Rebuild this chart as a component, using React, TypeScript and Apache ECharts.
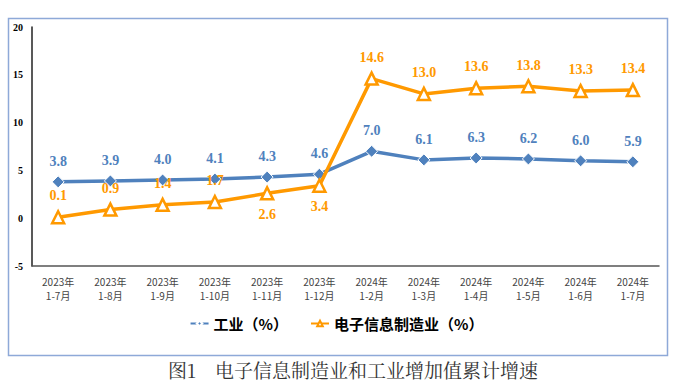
import React, { useEffect, useRef } from "react";
import * as echarts from "echarts";

const categories = [
  "2023年\n1-7月", "2023年\n1-8月", "2023年\n1-9月", "2023年\n1-10月", "2023年\n1-11月", "2023年\n1-12月",
  "2024年\n1-2月", "2024年\n1-3月", "2024年\n1-4月", "2024年\n1-5月", "2024年\n1-6月", "2024年\n1-7月",
];
const industry = [3.8, 3.9, 4.0, 4.1, 4.3, 4.6, 7.0, 6.1, 6.3, 6.2, 6.0, 5.9];
const electronics = [0.1, 0.9, 1.4, 1.7, 2.6, 3.4, 14.6, 13.0, 13.6, 13.8, 13.3, 13.4];
const belowLabelIdx = [4, 5];
const seriesNames = ["工业（%）", "电子信息制造业（%）"];
const caption = "图1　电子信息制造业和工业增加值累计增速";

export default function App() {
  const ref = useRef<HTMLDivElement>(null);
  useEffect(() => {
    const chart = echarts.init(ref.current!, null, { renderer: "svg" });
    const blue = "#4F81BD";
    const orange = "#FF9900";
    const labelFont = { fontFamily: "'Liberation Serif', 'Times New Roman', serif", fontWeight: "bold" as const, fontSize: 14 };
    chart.setOption({
      animation: false,
      backgroundColor: "#fff",
      grid: { left: 32, right: 14, top: 27, bottom: 120, containLabel: false },
      legend: {
        bottom: 50,
        left: "center",
        itemWidth: 18,
        itemHeight: 7,
        itemGap: 22,
        textStyle: { fontSize: 15, fontWeight: "bold", color: "#000", fontFamily: "'Noto Sans CJK SC', sans-serif" },
        data: seriesNames,
      },
      xAxis: {
        type: "category",
        data: categories,
        boundaryGap: true,
        axisLine: { onZero: false, lineStyle: { color: "#555", width: 1.5 } },
        axisTick: { show: false },
        axisLabel: { color: "#444", fontSize: 10, lineHeight: 14, margin: 8, interval: 0, fontFamily: "'Noto Sans CJK SC', sans-serif" },
      },
      yAxis: {
        type: "value",
        min: -5,
        max: 20,
        interval: 5,
        splitLine: { show: false },
        axisLine: { show: true, lineStyle: { color: "#222", width: 1.5 } },
        axisTick: { show: false },
        axisLabel: { color: "#000", fontSize: 10, fontWeight: "bold", margin: 9, fontFamily: "'Liberation Serif', serif" },
      },
      series: [
        {
          name: seriesNames[0],
          type: "line",
          data: industry,
          symbol: "diamond",
          symbolSize: 12,
          lineStyle: { color: blue, width: 3.5 },
          itemStyle: { color: blue, borderColor: "#fff", borderWidth: 1 },
          label: { show: true, position: "top", distance: 7, color: blue, formatter: (p: any) => p.value.toFixed(1), ...labelFont },
          z: 3,
        },
        {
          name: seriesNames[1],
          type: "line",
          data: electronics.map((v, i) => ({
            value: v,
            label: belowLabelIdx.includes(i) ? { position: "bottom", distance: 7 } : undefined,
          })),
          symbol: "triangle",
          symbolSize: 12,
          lineStyle: { color: orange, width: 3.5 },
          itemStyle: { color: "#fff", borderColor: orange, borderWidth: 2.5 },
          label: { show: true, position: "top", distance: 7, color: orange, formatter: (p: any) => p.value.toFixed(1), ...labelFont },
          z: 4,
        },
      ],
      graphic: [
        {
          type: "rect",
          left: 6,
          top: 16,
          shape: { x: 0, y: 0, width: 659, height: 337 },
          style: { fill: "none", stroke: "#8EA9D8", lineWidth: 1.5 },
          silent: true,
        },
        {
          type: "text",
          left: 168,
          top: 360,
          style: { text: caption, fontSize: 19, fill: "#333", fontFamily: "'Noto Serif CJK SC', 'Liberation Serif', serif" },
        },
      ],
    });
    return () => chart.dispose();
  }, []);
  return <div ref={ref} style={{ width: 673, height: 386, position: "absolute", left: 0, top: 0 }} />;
}
